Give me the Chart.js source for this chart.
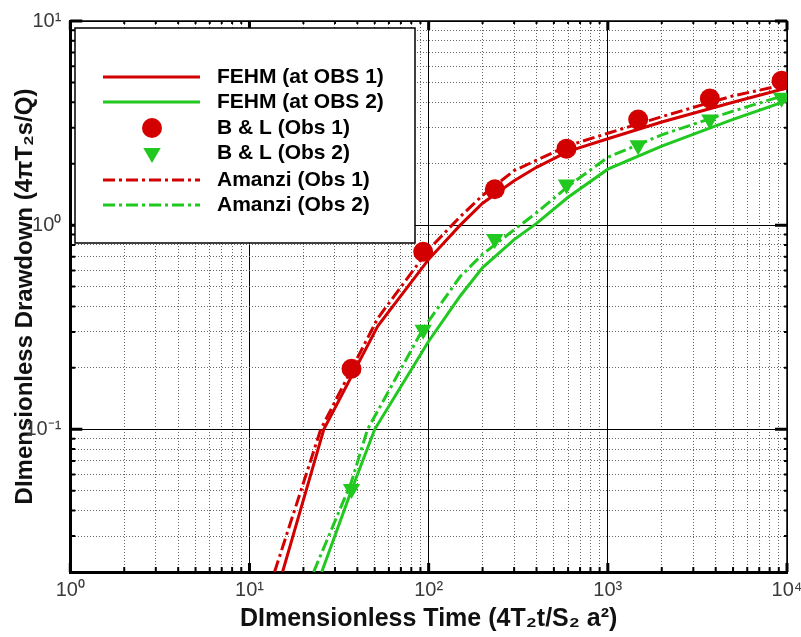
<!DOCTYPE html>
<html lang="en">
<head>
<meta charset="UTF-8">
<title>Dimensionless Drawdown</title>
<script src="https://cdn.jsdelivr.net/npm/chart.js"></script>
<style>
  html, body { margin: 0; padding: 0; background: #fff; }
</style>
</head>
<body>
<canvas id="myChart" width="801" height="637"></canvas>
<script>
// FEHM at OBS 1 (solid red)
const fehm1Time = [15.3, 26, 52, 100, 150, 200, 300, 400, 600, 1000, 2000, 5000, 10000];
const fehm1Drawdown = [0.02, 0.1, 0.32, 0.68, 1.0, 1.28, 1.65, 1.92, 2.3, 2.65, 3.2, 4.0, 4.7];
// FEHM at OBS 2 (solid green)
const fehm2Time = [25.3, 37, 50, 100, 150, 200, 300, 400, 600, 1000, 2000, 5000, 10000];
const fehm2Drawdown = [0.02, 0.05, 0.1, 0.27, 0.45, 0.62, 0.85, 1.02, 1.37, 1.88, 2.44, 3.3, 4.07];
// B & L analytic points
const blTime = [37.1, 93.2, 234, 588, 1477, 3710, 9320];
const bl1Drawdown = [0.198, 0.74, 1.50, 2.37, 3.29, 4.17, 5.10];
const bl2Drawdown = [0.051, 0.307, 0.855, 1.58, 2.46, 3.29, 4.21];
// Amanzi (dash-dot)
const amanzi1Time = [13.8, 25, 52, 100, 150, 200, 300, 400, 600, 1000, 2000, 5000, 10000];
const amanzi1Drawdown = [0.02, 0.1, 0.35, 0.76, 1.1, 1.4, 1.85, 2.08, 2.45, 2.82, 3.4, 4.3, 4.9];
const amanzi2Time = [22.8, 37, 45.6, 93, 150, 200, 300, 400, 600, 1000, 2000, 5000, 10000];
const amanzi2Drawdown = [0.02, 0.055, 0.1, 0.31, 0.56, 0.72, 0.95, 1.15, 1.55, 2.15, 2.77, 3.62, 4.36];

const xDecades = [1, 10, 100, 1000, 10000];
const yDecades = [0.01, 0.1, 1, 10];
const minorSteps = [1, 2, 3, 4, 5, 6, 7, 8, 9];

const RED = '#d20000';
const GREEN = '#20c820';
const FONT = "'Liberation Sans', Arial, Helvetica, sans-serif";

function pts(xs, ys) {
  return xs.map((x, i) => ({ x: x, y: ys[i] }));
}

function buildTicks(decades, min, max) {
  const out = [];
  decades.forEach(d => minorSteps.forEach(m => {
    const v = +(d * m).toPrecision(6);
    if (v >= min - 1e-9 && v <= max + 1e-9) out.push(v);
  }));
  return out;
}

function isDecade(v) {
  if (v === undefined) return false;
  const e = Math.log10(v);
  return Math.abs(e - Math.round(e)) < 1e-6;
}

const sup = { '-': '\u207B', '0': '\u2070', '1': '\u00B9', '2': '\u00B2', '3': '\u00B3', '4': '\u2074' };
function powLabel(v) {
  if (!isDecade(v)) return '';
  const e = Math.round(Math.log10(v));
  return '10' + String(e).split('').map(c => sup[c]).join('');
}

// thin top/right frame and inward tick marks
const frameTicks = {
  id: 'frameTicks',
  beforeDatasetsDraw(chart) {
    const { ctx, chartArea: a, scales } = chart;
    ctx.save();
    ctx.strokeStyle = '#000';
    ctx.lineWidth = 1.5;
    ctx.beginPath();
    ctx.moveTo(a.left, a.top); ctx.lineTo(a.right, a.top); ctx.lineTo(a.right, a.bottom);
    ctx.stroke();
    scales.x.ticks.forEach(t => {
      const px = scales.x.getPixelForValue(t.value);
      const big = isDecade(t.value);
      ctx.lineWidth = big ? 3 : 2;
      const len = big ? 9 : 5;
      ctx.beginPath();
      ctx.moveTo(px, a.bottom); ctx.lineTo(px, a.bottom - len);
      ctx.moveTo(px, a.top); ctx.lineTo(px, a.top + (big ? len : 3));
      ctx.stroke();
    });
    scales.y.ticks.forEach(t => {
      const py = scales.y.getPixelForValue(t.value);
      const big = isDecade(t.value);
      ctx.lineWidth = big ? 3 : 2;
      const len = big ? 12 : 5;
      ctx.beginPath();
      ctx.moveTo(a.left, py); ctx.lineTo(a.left + len, py);
      ctx.moveTo(a.right, py); ctx.lineTo(a.right - (big ? len : 3), py);
      ctx.stroke();
    });
    ctx.restore();
  }
};

// legend box drawn inside the plot, as in the figure
const boxLegend = {
  id: 'boxLegend',
  afterDraw(chart) {
    const { ctx } = chart;
    const bx = 75, by = 28, bw = 340, bh = 215;
    ctx.save();
    ctx.fillStyle = '#fff';
    ctx.fillRect(bx, by, bw, bh);
    ctx.strokeStyle = '#000';
    ctx.lineWidth = 1.5;
    ctx.strokeRect(bx, by, bw, bh);
    const rows = [77, 102, 128, 153, 180, 205];
    chart.data.datasets.forEach((ds, i) => {
      const y = rows[i];
      if (ds.showLine) {
        ctx.strokeStyle = ds.borderColor;
        ctx.lineWidth = ds.borderWidth;
        ctx.setLineDash(ds.borderDash || []);
        ctx.beginPath();
        ctx.moveTo(103, y); ctx.lineTo(200, y);
        ctx.stroke();
        ctx.setLineDash([]);
      } else {
        ctx.fillStyle = ds.backgroundColor;
        ctx.beginPath();
        if (ds.pointStyle === 'circle') {
          ctx.arc(152, y, ds.pointRadius, 0, Math.PI * 2);
        } else {
          const r = ds.pointRadius;
          ctx.moveTo(152 - r * 0.87, y - r * 0.5); ctx.lineTo(152 + r * 0.87, y - r * 0.5); ctx.lineTo(152, y + r);
          ctx.closePath();
        }
        ctx.fill();
      }
      ctx.fillStyle = '#000';
      ctx.font = 'bold 21px ' + FONT;
      ctx.textBaseline = 'middle';
      ctx.fillText(ds.label, 217, y);
    });
    ctx.restore();
  }
};

const ctx = document.getElementById('myChart').getContext('2d');
new Chart(ctx, {
  type: 'scatter',
  data: {
    datasets: [
      { label: 'FEHM (at OBS 1)', data: pts(fehm1Time, fehm1Drawdown), showLine: true,
        borderColor: RED, borderWidth: 3, pointRadius: 0, order: 3 },
      { label: 'FEHM (at OBS 2)', data: pts(fehm2Time, fehm2Drawdown), showLine: true,
        borderColor: GREEN, borderWidth: 3, pointRadius: 0, order: 3 },
      { label: 'B & L (Obs 1)', data: pts(blTime, bl1Drawdown), showLine: false,
        pointStyle: 'circle', pointRadius: 10, backgroundColor: RED, borderColor: RED,
        borderWidth: 0, order: 1 },
      { label: 'B & L (Obs 2)', data: pts(blTime, bl2Drawdown), showLine: false,
        pointStyle: 'triangle', pointRadius: 10, rotation: 180, backgroundColor: GREEN,
        borderColor: GREEN, borderWidth: 0, order: 1 },
      { label: 'Amanzi (Obs 1)', data: pts(amanzi1Time, amanzi1Drawdown), showLine: true,
        borderColor: RED, borderWidth: 3, borderDash: [12, 4, 3, 4], pointRadius: 0, order: 2 },
      { label: 'Amanzi (Obs 2)', data: pts(amanzi2Time, amanzi2Drawdown), showLine: true,
        borderColor: GREEN, borderWidth: 3, borderDash: [12, 4, 3, 4], pointRadius: 0, order: 2 }
    ]
  },
  options: {
    responsive: false,
    animation: false,
    layout: { padding: { left: 0, right: 14, top: 7, bottom: 0 } },
    plugins: { legend: { display: false }, tooltip: { enabled: false } },
    scales: {
      x: {
        type: 'logarithmic',
        min: 1, max: 10000,
        afterBuildTicks: s => { s.ticks = buildTicks(xDecades, 1, 10000).map(v => ({ value: v })); },
        afterFit: s => { s.paddingRight = 0; },
        ticks: { autoSkip: false, maxRotation: 0, padding: 6, color: '#3a3a3a',
                 font: { family: FONT, size: 20 }, callback: v => powLabel(v) },
        grid: { drawTicks: false, color: c => isDecade(c.tick && c.tick.value) ? '#000' : '#666', lineWidth: 1 },
        border: { color: '#000', width: 3, dash: c => isDecade(c.tick && c.tick.value) ? [] : [1, 2] },
        title: { display: true, text: 'DImensionless Time (4T\u2082t/S\u2082 a\u00B2)', color: '#111',
                 font: { family: FONT, size: 25, weight: 'bold' }, padding: { top: -4, bottom: 3 } }
      },
      y: {
        type: 'logarithmic',
        min: 0.02, max: 10,
        afterBuildTicks: s => { s.ticks = buildTicks(yDecades, 0.02, 10).map(v => ({ value: v })); },
        ticks: { autoSkip: false, padding: 9, color: '#3a3a3a',
                 font: { family: FONT, size: 20 }, callback: v => powLabel(v) },
        grid: { drawTicks: false, color: c => isDecade(c.tick && c.tick.value) ? '#000' : '#666', lineWidth: 1 },
        border: { color: '#000', width: 3, dash: c => isDecade(c.tick && c.tick.value) ? [] : [1, 2] },
        title: { display: true, text: 'DImensionless Drawdown (4\u03C0T\u2082s/Q)', color: '#111',
                 font: { family: FONT, size: 24, weight: 'bold' }, padding: { top: 10.6, bottom: -23 } }
      }
    }
  },
  plugins: [frameTicks, boxLegend]
});
</script>
</body>
</html>
